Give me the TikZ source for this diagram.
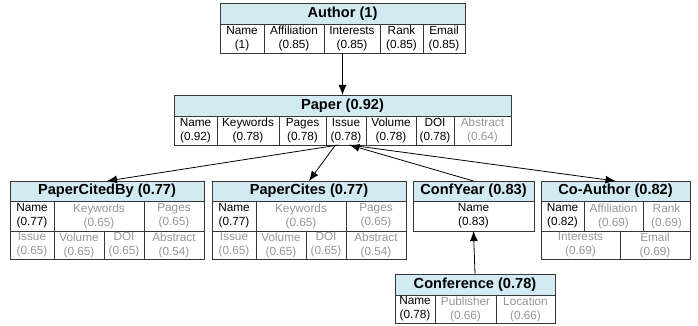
\documentclass[tikz,border=0pt]{standalone}
\usepackage{fontspec}
\setmainfont{Liberation Sans}
\usetikzlibrary{arrows.meta}
\definecolor{hdrblue}{RGB}{210,234,242}
\definecolor{edgegray}{RGB}{55,55,55}
\definecolor{dimtext}{RGB}{150,150,150}
\tikzset{
 cell/.style={draw=edgegray, line width=0.9pt, inner sep=0pt, outer sep=0pt, anchor=north west, align=center, font=\fontsize{11.8}{14}\selectfont, text=black},
 dim/.style={text=dimtext},
 hdr/.style={cell, fill=hdrblue, font=\bfseries\fontsize{14.6}{17}\selectfont},
 tbl/.style={inner sep=0pt, outer sep=0pt, anchor=north west},
 arr/.style={-{Latex[length=10pt,width=8pt]}, line width=0.8pt, black},
}
\begin{document}
\begin{tikzpicture}[x=1pt,y=-1pt]
\useasboundingbox (0,0) rectangle (698,326);

% Author
\node[tbl, minimum width=245, minimum height=50] (author) at (220,3) {};
\node[hdr, minimum width=245, minimum height=21] (auH) at (220,3) {Author (1)};
\node[cell, minimum width=44, minimum height=29] (auName) at (220,24) {Name\\(1)};
\node[cell, minimum width=60, minimum height=29] (auAff) at (264,24) {Affiliation\\(0.85)};
\node[cell, minimum width=56, minimum height=29] (auInt) at (324,24) {Interests\\(0.85)};
\node[cell, minimum width=43, minimum height=29] (auRank) at (380,24) {Rank\\(0.85)};
\node[cell, minimum width=42, minimum height=29] (auMail) at (423,24) {Email\\(0.85)};

% Paper
\node[tbl, minimum width=337, minimum height=50] (paper) at (174,95) {};
\node[hdr, minimum width=337, minimum height=21] (paH) at (174,95) {Paper (0.92)};
\node[cell, minimum width=43, minimum height=29] (paName) at (174,116) {Name\\(0.92)};
\node[cell, minimum width=62, minimum height=29] (paKey) at (217,116) {Keywords\\(0.78)};
\node[cell, minimum width=47, minimum height=29] (paPages) at (279,116) {Pages\\(0.78)};
\node[cell, minimum width=40, minimum height=29] (paIssue) at (326,116) {Issue\\(0.78)};
\node[cell, minimum width=50, minimum height=29] (paVol) at (366,116) {Volume\\(0.78)};
\node[cell, minimum width=38, minimum height=29] (paDOI) at (416,116) {DOI\\(0.78)};
\node[cell, dim, minimum width=57, minimum height=29] (paAbs) at (454,116) {Abstract\\(0.64)};

% PaperCitedBy
\node[tbl, minimum width=194, minimum height=78] (pcb) at (10,181) {};
\node[hdr, minimum width=194, minimum height=20] (pcbH) at (10,181) {PaperCitedBy (0.77)};
\node[cell, minimum width=44, minimum height=30] (pcbName) at (10,201) {Name\\(0.77)};
\node[cell, dim, minimum width=90, minimum height=30] (pcbKey) at (54,201) {Keywords\\(0.65)};
\node[cell, dim, minimum width=60, minimum height=30] (pcbPages) at (144,201) {Pages\\(0.65)};
\node[cell, dim, minimum width=44, minimum height=28] (pcbIssue) at (10,231) {Issue\\(0.65)};
\node[cell, dim, minimum width=50, minimum height=28] (pcbVol) at (54,231) {Volume\\(0.65)};
\node[cell, dim, minimum width=40, minimum height=28] (pcbDOI) at (104,231) {DOI\\(0.65)};
\node[cell, dim, minimum width=60, minimum height=28] (pcbAbs) at (144,231) {Abstract\\(0.54)};

% PaperCites
\node[tbl, minimum width=194, minimum height=78] (pci) at (212,181) {};
\node[hdr, minimum width=194, minimum height=20] (pciH) at (212,181) {PaperCites (0.77)};
\node[cell, minimum width=44, minimum height=30] (pciName) at (212,201) {Name\\(0.77)};
\node[cell, dim, minimum width=90, minimum height=30] (pciKey) at (256,201) {Keywords\\(0.65)};
\node[cell, dim, minimum width=60, minimum height=30] (pciPages) at (346,201) {Pages\\(0.65)};
\node[cell, dim, minimum width=44, minimum height=28] (pciIssue) at (212,231) {Issue\\(0.65)};
\node[cell, dim, minimum width=50, minimum height=28] (pciVol) at (256,231) {Volume\\(0.65)};
\node[cell, dim, minimum width=40, minimum height=28] (pciDOI) at (306,231) {DOI\\(0.65)};
\node[cell, dim, minimum width=60, minimum height=28] (pciAbs) at (346,231) {Abstract\\(0.54)};

% ConfYear
\node[tbl, minimum width=121, minimum height=50] (cy) at (413,181) {};
\node[hdr, minimum width=121, minimum height=20] (cyH) at (413,181) {ConfYear (0.83)};
\node[cell, minimum width=121, minimum height=30] (cyName) at (413,201) {Name\\(0.83)};

% Co-Author
\node[tbl, minimum width=149, minimum height=78] (co) at (541,181) {};
\node[hdr, minimum width=149, minimum height=20] (coH) at (541,181) {Co-Author (0.82)};
\node[cell, minimum width=43, minimum height=30] (coName) at (541,201) {Name\\(0.82)};
\node[cell, dim, minimum width=59, minimum height=30] (coAff) at (584,201) {Affiliation\\(0.69)};
\node[cell, dim, minimum width=47, minimum height=30] (coRank) at (643,201) {Rank\\(0.69)};
\node[cell, dim, minimum width=79, minimum height=28] (coInt) at (541,231) {Interests\\(0.69)};
\node[cell, dim, minimum width=70, minimum height=28] (coMail) at (620,231) {Email\\(0.69)};

% Conference
\node[tbl, minimum width=160, minimum height=49] (conf) at (395,274) {};
\node[hdr, minimum width=160, minimum height=21] (confH) at (395,274) {Conference (0.78)};
\node[cell, minimum width=40, minimum height=28] (confName) at (395,295) {Name\\(0.78)};
\node[cell, dim, minimum width=61, minimum height=28] (confPub) at (435,295) {Publisher\\(0.66)};
\node[cell, dim, minimum width=59, minimum height=28] (confLoc) at (496,295) {Location\\(0.66)};

% connectors
\draw[arr] (author.south -| paper.north) -- (paper.north);
\draw[arr] ([xshift=-4pt]paper.south) -- (pcb.north);
\draw[arr] ([xshift=-7pt]paper.south) -- (pci.north);
\draw[arr] (cy.north) -- ([xshift=7pt]paper.south);
\draw[arr] ([xshift=7pt]paper.south) -- (co.north);
\draw[arr] (conf.north) -- (cy.south);
\end{tikzpicture}
\end{document}
